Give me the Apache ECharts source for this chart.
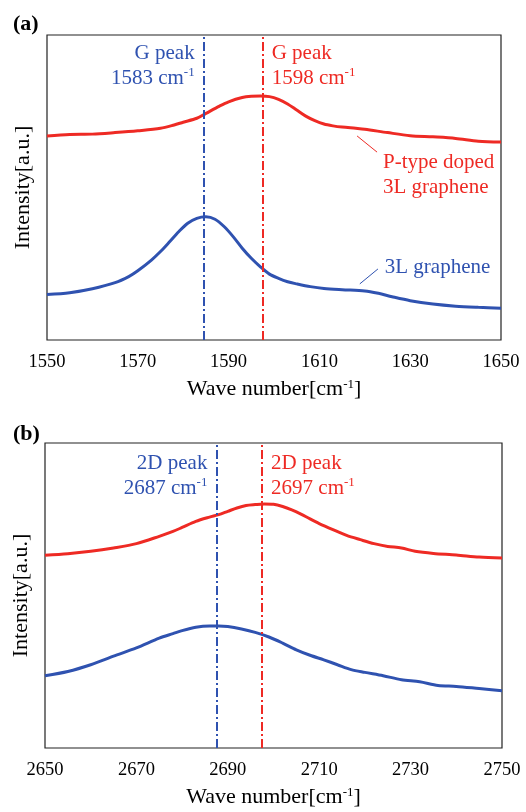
<!DOCTYPE html>
<html>
<head>
<meta charset="utf-8">
<script src="https://cdn.jsdelivr.net/npm/echarts@6/dist/echarts.min.js"></script>
<style>
html, body { margin: 0; padding: 0; background: #fff; }
#chart { width: 526px; height: 812px; }
</style>
</head>
<body>
<div id="chart"></div>
<script>
// (a) G band
const gTicks = [1550, 1570, 1590, 1610, 1630, 1650];
const gDoped = [
  [1550, 66.9], [1555, 67.4], [1560, 67.5], [1565, 68.0], [1570, 68.6], [1575, 69.4],
  [1578, 70.5], [1580, 71.4], [1583, 72.7], [1585, 74.3], [1588, 76.7], [1590, 78.1],
  [1593, 79.5], [1595, 79.9], [1597, 80.0], [1599, 79.8], [1601, 78.9], [1603, 77.4],
  [1605, 75.4], [1607, 73.4], [1609, 71.9], [1611, 70.8], [1613, 70.2], [1615, 69.8],
  [1618, 69.4], [1620, 69.1], [1625, 68.0], [1630, 67.0], [1635, 66.6], [1640, 66.1],
  [1645, 65.2], [1650, 64.9]
];
const gPristine = [
  [1550, 14.9], [1555, 15.5], [1560, 16.8], [1565, 18.8], [1568, 20.8], [1570, 22.7],
  [1573, 26.2], [1575, 29.0], [1577, 32.2], [1579, 35.5], [1581, 38.3], [1583, 39.9],
  [1585, 40.4], [1587, 39.6], [1589, 37.2], [1591, 33.9], [1593, 30.1], [1595, 26.8],
  [1597, 24.0], [1599, 21.6], [1601, 20.2], [1603, 19.1], [1605, 18.4], [1608, 17.5],
  [1611, 16.9], [1615, 16.5], [1620, 16.1], [1623, 15.3], [1626, 14.2], [1630, 12.9],
  [1635, 11.8], [1640, 11.1], [1645, 10.7], [1650, 10.4]
];
const gPeakLines = [1584.5, 1597.5];
const gPeakText = ['1583', '1598'];

// (b) 2D band
const dTicks = [2650, 2670, 2690, 2710, 2730, 2750];
const dDoped = [
  [2650, 63.2], [2655, 63.7], [2660, 64.5], [2665, 65.6], [2670, 67.0], [2675, 69.4],
  [2678, 71.0], [2680, 72.3], [2683, 74.3], [2686, 75.7], [2688, 76.5], [2690, 77.6],
  [2692, 78.7], [2694, 79.5], [2696, 79.8], [2698, 80.0], [2700, 79.9], [2702, 79.2],
  [2704, 78.1], [2706, 76.7], [2708, 75.1], [2710, 73.6], [2713, 71.6], [2716, 69.7],
  [2719, 68.3], [2722, 67.0], [2725, 66.1], [2728, 65.6], [2731, 64.5], [2735, 63.8],
  [2740, 63.3], [2745, 62.6], [2750, 62.3]
];
const dPristine = [
  [2650, 23.7], [2655, 25.1], [2660, 27.3], [2665, 30.1], [2670, 32.8], [2675, 36.0],
  [2678, 37.5], [2680, 38.5], [2683, 39.6], [2686, 40.0], [2688, 40.0], [2690, 39.8],
  [2693, 39.0], [2696, 37.9], [2699, 36.4], [2702, 34.4], [2705, 32.2], [2708, 30.4],
  [2711, 28.9], [2714, 27.3], [2717, 25.7], [2720, 24.8], [2724, 23.7], [2728, 22.4],
  [2732, 21.7], [2736, 20.5], [2740, 20.2], [2745, 19.5], [2750, 18.8]
];
const dPeakLines = [2687.5, 2697.5];
const dPeakText = ['2687', '2697'];

const BLUE = "#2f52b0";
const RED = "#ee2a24";
const FONT = "Liberation Serif";
const dashDot = [9, 3, 2, 3]; // dash-dot

function richFor(color, size) {
  return {
    sup: { fontFamily: FONT, fontSize: Math.round(size * 0.6), color: color, verticalAlign: "top" },
    t: { fontFamily: FONT, fontSize: size, color: color }
  };
}

function xAxis(idx, min, max, ticks) {
  return {
    gridIndex: idx,
    type: "value",
    min: min,
    max: max,
    name: "{t|Wave number[cm}{sup|-1}{t|]}",
    nameLocation: "middle",
    nameGap: 38,
    nameTextStyle: { rich: richFor("#000", 22) },
    axisLine: { show: false },
    axisTick: { show: false },
    splitLine: { show: false },
    axisLabel: {
      customValues: ticks,
      formatter: v => String(v),
      margin: 13,
      fontFamily: FONT,
      fontSize: 18.5,
      color: "#000"
    }
  };
}

function yAxis(idx) {
  return {
    gridIndex: idx,
    type: "value",
    min: 0,
    max: 100,
    name: "Intensity[a.u.]",
    nameLocation: "middle",
    nameGap: 13,
    nameTextStyle: { fontFamily: FONT, fontSize: 22, color: "#000" },
    axisLine: { show: false },
    axisTick: { show: false },
    axisLabel: { show: false },
    splitLine: { show: false }
  };
}

function peakLabel(color, name, wn, side) {
  return {
    show: true,
    position: side,
    distance: 9,
    align: side === "left" ? "right" : "left",
    lineHeight: 25,
    formatter: "{t|" + name + "}\n{t|" + wn + " cm}{sup|-1}",
    rich: richFor(color, 21)
  };
}

function curve(idx, data, color, marks) {
  return Object.assign({
    type: "line",
    xAxisIndex: idx,
    yAxisIndex: idx,
    data: data,
    smooth: 0.3,
    symbol: "none",
    lineStyle: { color: color, width: 3 },
    silent: true
  }, marks);
}

function vline(x, color) {
  return {
    xAxis: x,
    lineStyle: { color: color, width: 2, type: dashDot },
    label: { show: false }
  };
}

function leader(from, to, color) {
  return [
    { coord: from, lineStyle: { color: color, width: 1, type: "solid" } },
    { coord: to }
  ];
}

function note(coord, color, text) {
  return {
    coord: coord,
    symbolSize: 0,
    label: {
      show: true,
      position: "right",
      distance: 0,
      align: "left",
      lineHeight: 25,
      color: color,
      fontFamily: FONT,
      fontSize: 21,
      formatter: text
    }
  };
}

let option = {
  animation: false,
  backgroundColor: "#fff",
  title: [
    { text: "(a)", left: 8, top: 8, textStyle: { fontFamily: FONT, fontSize: 22, fontWeight: "bold", color: "#000" } },
    { text: "(b)", left: 8, top: 418, textStyle: { fontFamily: FONT, fontSize: 22, fontWeight: "bold", color: "#000" } }
  ],
  grid: [
    { left: 47, right: 25, top: 35, height: 305, show: true, borderColor: "#222", borderWidth: 1.2, backgroundColor: "transparent" },
    { left: 45, right: 24, top: 443, height: 305, show: true, borderColor: "#222", borderWidth: 1.2, backgroundColor: "transparent" }
  ],
  xAxis: [xAxis(0, 1550, 1650, gTicks), xAxis(1, 2650, 2750, dTicks)],
  yAxis: [yAxis(0), yAxis(1)],
  series: [
    curve(0, gDoped, RED, {
      markLine: {
        silent: true,
        symbol: "none",
        data: [vline(gPeakLines[1], RED), leader([1618.3, 66.9], [1622.7, 61.6], RED)]
      },
      markPoint: {
        silent: true,
        data: [
          { coord: [gPeakLines[1], 89.7], symbolSize: 0, label: peakLabel(RED, "G peak", gPeakText[1], "right") },
          note([1624, 54], RED, "P-type doped\n3L graphene")
        ]
      }
    }),
    curve(0, gPristine, BLUE, {
      markLine: {
        silent: true,
        symbol: "none",
        data: [vline(gPeakLines[0], BLUE), leader([1618.9, 18.4], [1622.9, 23.3], BLUE)]
      },
      markPoint: {
        silent: true,
        data: [
          { coord: [gPeakLines[0], 89.7], symbolSize: 0, label: peakLabel(BLUE, "G peak", gPeakText[0], "left") },
          note([1624.4, 23.9], BLUE, "3L graphene")
        ]
      }
    }),
    curve(1, dDoped, RED, {
      markLine: { silent: true, symbol: "none", data: [vline(dPeakLines[1], RED)] },
      markPoint: {
        silent: true,
        data: [{ coord: [dPeakLines[1], 89.3], symbolSize: 0, label: peakLabel(RED, "2D peak", dPeakText[1], "right") }]
      }
    }),
    curve(1, dPristine, BLUE, {
      markLine: { silent: true, symbol: "none", data: [vline(dPeakLines[0], BLUE)] },
      markPoint: {
        silent: true,
        data: [{ coord: [dPeakLines[0], 89.3], symbolSize: 0, label: peakLabel(BLUE, "2D peak", dPeakText[0], "left") }]
      }
    })
  ]
};

var chart = echarts.init(document.getElementById("chart"));
chart.setOption(option);
</script>
</body>
</html>
